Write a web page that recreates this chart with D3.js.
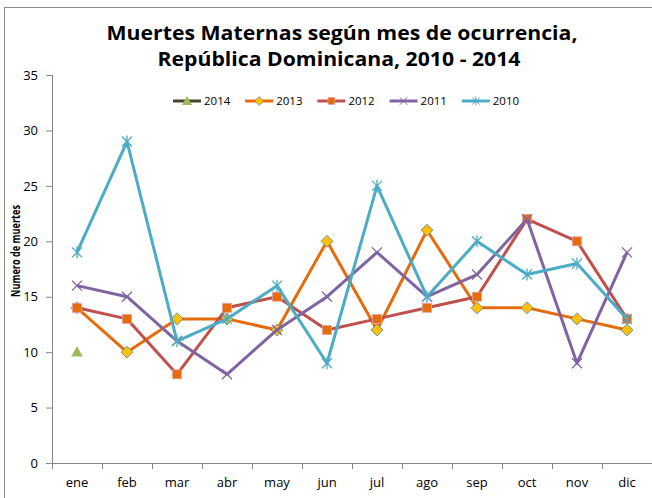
<!DOCTYPE html>
<html>
<head>
<meta charset="utf-8">
<script src="https://cdn.jsdelivr.net/npm/d3@7/dist/d3.min.js"></script>
<style>
body{margin:0;background:#fff;}
svg{display:block;font-family:"Open Sans","Noto Sans",sans-serif;}
</style>
</head>
<body>
<svg id="chart" width="652" height="498"></svg>
<script>
// data
var meses=["ene","feb","mar","abr","may","jun","jul","ago","sep","oct","nov","dic"];
var anios=["2014","2013","2012","2011","2010"];
var v2014=[10,null,null,null,null,null,null,null,null,null,null,null];
var v2013=[14,10,13,13,12,20,12,21,14,14,13,12];
var v2012=[14,13,8,14,15,12,13,14,15,22,20,13];
var v2011=[16,15,11,8,12,15,19,15,17,22,9,19];
var v2010=[19,29,11,13,16,9,25,15,20,17,18,13];
var yTicks=[0,5,10,15,20,25,30,35];

var series=[
  {name:"2014",vals:v2014,line:"#4a452a",mark:"tri"},
  {name:"2013",vals:v2013,line:"#e46c0a",mark:"dia"},
  {name:"2012",vals:v2012,line:"#c0504d",mark:"sq"},
  {name:"2011",vals:v2011,line:"#8064a2",mark:"x"},
  {name:"2010",vals:v2010,line:"#4bacc6",mark:"star"}
];

var svg=d3.select("#chart");
var pLeft=52,pTop=75,pBottom=463;

// border
svg.append("rect").attr("x",4.5).attr("y",7.5).attr("width",700).attr("height",600)
  .attr("fill","none").attr("stroke","#8c8c8c").attr("stroke-width",1);

var x=d3.scaleBand().domain(meses).range([pLeft,pLeft+600]);
var y=d3.scaleLinear().domain([0,35]).range([pBottom,pTop]);

// title
svg.append("text").attr("x",342).attr("y",40).attr("text-anchor","middle")
  .attr("font-size",19).attr("font-weight","bold").attr("fill","#000")
  .attr("textLength",471).attr("lengthAdjust","spacingAndGlyphs")
  .text("Muertes Maternas según mes de ocurrencia,");
svg.append("text").attr("x",339).attr("y",66).attr("text-anchor","middle")
  .attr("font-size",19).attr("font-weight","bold").attr("fill","#000")
  .attr("textLength",363).attr("lengthAdjust","spacingAndGlyphs")
  .text("República Dominicana, 2010 - 2014");

// y axis
var ya=svg.append("g").attr("transform","translate("+pLeft+",0)")
  .call(d3.axisLeft(y).tickValues(yTicks).tickSize(6).tickPadding(8));
ya.select(".domain").attr("stroke","#868686").attr("d","M0.5,"+pTop+"V"+pBottom);
ya.selectAll(".tick line").attr("stroke","#868686");
ya.selectAll(".tick text").attr("font-size",13).attr("fill","#000").attr("font-family","Open Sans");

// x axis
var xa=svg.append("g").attr("transform","translate(0,"+pBottom+")");
xa.append("line").attr("x1",pLeft-6).attr("x2",652).attr("y1",0.5).attr("y2",0.5).attr("stroke","#868686");
xa.selectAll("line.tk").data(meses).enter().append("line").attr("class","tk")
  .attr("x1",function(d){return x(d)+0.5;}).attr("x2",function(d){return x(d)+0.5;})
  .attr("y1",0).attr("y2",6).attr("stroke","#868686");
xa.selectAll("text").data(meses).enter().append("text")
  .attr("x",function(d){return x(d)+x.bandwidth()/2;}).attr("y",24)
  .attr("text-anchor","middle").attr("font-size",13).attr("fill","#000")
  .text(function(d){return d;});

// y label
svg.append("text").attr("transform","translate(20,251) rotate(-90)")
  .attr("text-anchor","middle").attr("font-size",13).attr("font-weight","bold")
  .attr("textLength",92).attr("lengthAdjust","spacingAndGlyphs")
  .text("Numero de muertes");

function drawMark(g,type,cx,cy,s){
  if(type=="tri"){
    g.append("path").attr("d",d3.symbol(d3.symbolTriangle,60*s)()).attr("transform","translate("+cx+","+(cy+1)+")")
      .attr("fill","#9bbb59");
  }else if(type=="dia"){
    g.append("path").attr("d","M0,-6L6,0L0,6L-6,0Z").attr("transform","translate("+cx+","+cy+") scale("+s+")")
      .attr("fill","#ffc000").attr("stroke","#4f81bd").attr("stroke-width",0.8);
  }else if(type=="sq"){
    g.append("rect").attr("x",cx-4.5*s).attr("y",cy-4.5*s).attr("width",9*s).attr("height",9*s)
      .attr("fill","#e46c0a").attr("stroke","#e6a0a0").attr("stroke-width",0.8);
  }else if(type=="x"){
    g.append("path").attr("d","M-5,-5L5,5M-5,5L5,-5").attr("transform","translate("+cx+","+cy+") scale("+s+")")
      .attr("stroke","#8064a2").attr("stroke-width",1.3).attr("fill","none");
  }else{
    g.append("path").attr("d","M-5,-5L5,5M-5,5L5,-5M0,-6V6").attr("transform","translate("+cx+","+cy+") scale("+s+")")
      .attr("stroke","#4bacc6").attr("stroke-width",1.3).attr("fill","none");
  }
}

var line=d3.line().defined(function(d){return d!=null;})
  .x(function(d,i){return x(meses[i])+x.bandwidth()/2;})
  .y(function(d){return y(d);});

series.forEach(function(s){
  var g=svg.append("g");
  g.append("path").attr("d",line(s.vals)).attr("fill","none")
    .attr("stroke",s.line).attr("stroke-width",3).attr("stroke-linejoin","round");
  s.vals.forEach(function(v,i){
    if(v==null)return;
    drawMark(g,s.mark,x(meses[i])+x.bandwidth()/2,y(v),1);
  });
});

// legend
var lg=svg.append("g");
anios.forEach(function(a,i){
  var s=series[i];
  var lx=173+i*72.2;
  lg.append("line").attr("x1",lx).attr("x2",lx+28).attr("y1",101).attr("y2",101)
    .attr("stroke",s.line).attr("stroke-width",3);
  drawMark(lg,s.mark,lx+14,101,0.75);
  lg.append("text").attr("x",lx+31).attr("y",105).attr("font-size",11.5).attr("fill","#000").text(a);
});
</script>
</body>
</html>
